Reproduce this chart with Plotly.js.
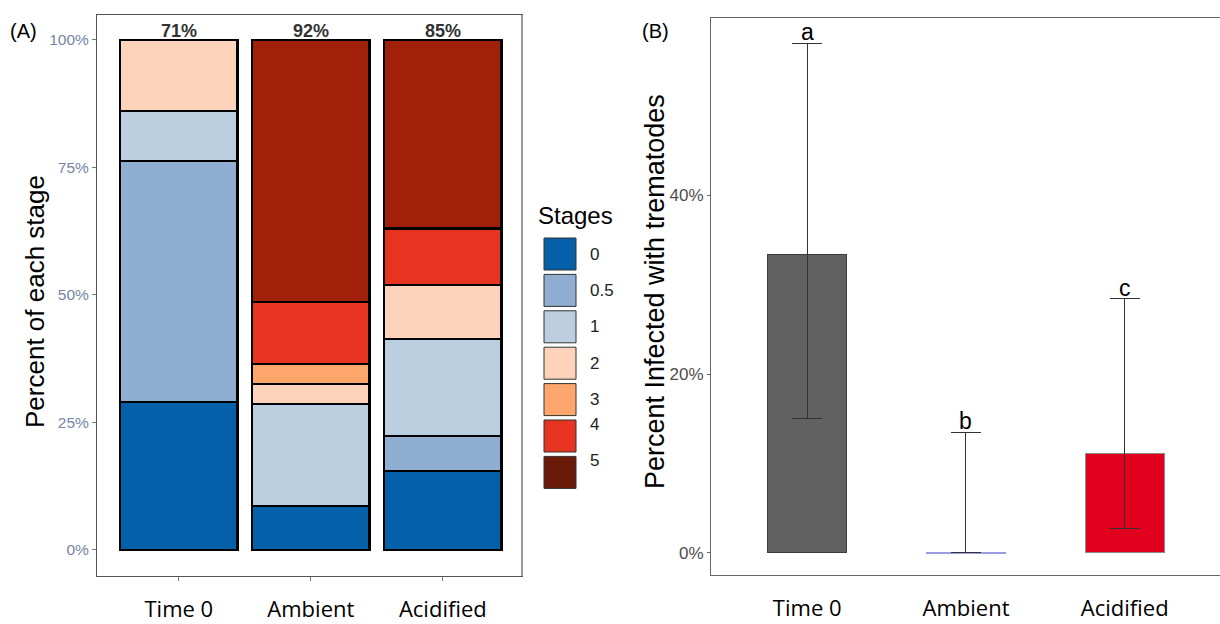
<!DOCTYPE html>
<html>
<head>
<meta charset="utf-8">
<script src="https://cdn.plot.ly/plotly-3.0.1.min.js"></script>
<style>html,body{margin:0;padding:0;background:#fff;}#chart{width:1220px;height:624px;}</style>
</head>
<body>
<div id="chart"></div>
<script>
// ---------- DATA ----------
const groups = ['Time 0', 'Ambient', 'Acidified'];
const stageNames = ['0', '0.5', '1', '2', '3', '4', '5'];
// percent of each stage per group (Panel A)
const stage0  = [29.0,  8.6, 15.5];
const stage05 = [47.3,  0.0,  6.9];
const stage1  = [ 9.8, 20.0, 19.0];
const stage2  = [13.9,  3.9, 10.6];
const stage3  = [ 0.0,  4.0,  0.0];
const stage4  = [ 0.0, 12.1, 11.0];
const stage5  = [ 0.0, 51.4, 37.0];
const infectedLabels = ['71%', '92%', '85%'];
// Panel B: percent infected with trematodes
const infected = [33.4, 0.0, 11.1];
const ciUpper  = [57.0, 13.5, 28.4];
const ciLower  = [15.0, 0.0, 2.7];
const letters  = ['a', 'b', 'c'];

// ---------- STYLE ----------
const stageColors = ['#0460a8', '#8faed1', '#bccfe1', '#fdd4bb', '#fca66c', '#e73421', '#a0200a'];
const keyColors   = ['#0460a8', '#8faed1', '#bccfe1', '#fdd4bb', '#fca66c', '#e73421', '#6b1a09'];
const stageData = [stage0, stage05, stage1, stage2, stage3, stage4, stage5];
const W = 1220, H = 624;
const px = x => x / W;
const py = y => 1 - y / H;
const sans = 'Liberation Sans, Arial, sans-serif';
const calib = 'Open Sans, sans-serif';

const traces = [];
stageData.forEach((vals, i) => {
  traces.push({
    type: 'bar', x: groups, y: vals, name: stageNames[i],
    xaxis: 'x', yaxis: 'y', width: 0.89,
    marker: {color: stageColors[i], line: {color: '#000', width: 2.5}},
    showlegend: false, hoverinfo: 'skip'
  });
});
traces.push({
  type: 'bar', x: groups, y: infected, xaxis: 'x2', yaxis: 'y2', width: 0.5,
  marker: {color: ['#616161', '#ffffff', '#e2001f'], line: {color: ['#3d3d3d', '#9a9be0', '#8a8a8a'], width: [1, 2, 1]}},
  error_y: {type: 'data', symmetric: false,
    array: ciUpper.map((u, i) => u - infected[i]),
    arrayminus: ciLower.map((l, i) => infected[i] - l),
    color: '#333', thickness: 1, width: 15},
  showlegend: false, hoverinfo: 'skip'
});

const annotations = [];
groups.forEach((g, i) => {
  annotations.push({xref: 'x', yref: 'y', x: g, y: 100, text: '<b>' + infectedLabels[i] + '</b>',
    showarrow: false, yanchor: 'bottom', yshift: -3, font: {family: sans, size: 18, color: '#333'}});
  annotations.push({xref: 'x2', yref: 'y2', x: g, y: ciUpper[i], text: letters[i],
    showarrow: false, yanchor: 'bottom', yshift: -4, font: {family: sans, size: 23, color: '#000'}});
});
annotations.push({xref: 'paper', yref: 'paper', x: px(35), y: py(302), xanchor: 'center', yanchor: 'middle',
  text: 'Percent of each stage', textangle: -90, showarrow: false, font: {family: sans, size: 26, color: '#000'}});
annotations.push({xref: 'paper', yref: 'paper', x: px(655), y: py(292), xanchor: 'center', yanchor: 'middle',
  text: 'Percent Infected with trematodes', textangle: -90, showarrow: false, font: {family: sans, size: 27, color: '#000'}});
annotations.push({xref: 'paper', yref: 'paper', x: px(8), y: py(18), xanchor: 'left', text: '(A)',
  showarrow: false, font: {family: sans, size: 20, color: '#000'}});
annotations.push({xref: 'paper', yref: 'paper', x: px(640), y: py(18), xanchor: 'left', text: '(B)',
  showarrow: false, font: {family: sans, size: 20, color: '#000'}});
annotations.push({xref: 'paper', yref: 'paper', x: px(536), y: py(215), xanchor: 'left', text: 'Stages',
  showarrow: false, font: {family: sans, size: 24, color: '#000'}});

const shapes = [];
stageNames.forEach((s, i) => {
  const top = 238 + i * 36.4;
  shapes.push({type: 'rect', xref: 'paper', yref: 'paper', x0: px(544), x1: px(576), y0: py(top + 32), y1: py(top),
    fillcolor: keyColors[i], line: {color: '#333', width: 1}});
  annotations.push({xref: 'paper', yref: 'paper', x: px(588), y: py(top + 16), xanchor: 'left', text: s,
    showarrow: false, font: {family: sans, size: 17, color: '#222'}});
});
// heavier right frame line of panel A
shapes.push({type: 'line', xref: 'paper', yref: 'paper', x0: px(522), x1: px(522), y0: py(576), y1: py(15),
  line: {color: '#9a9a9a', width: 2}});

const layout = {
  width: W, height: H, margin: {l: 0, r: 0, t: 0, b: 0},
  paper_bgcolor: '#fff', plot_bgcolor: '#fff',
  barmode: 'stack', showlegend: false,
  xaxis: {domain: [px(97), px(522)], range: [-0.62, 2.6], showline: true, mirror: true, linecolor: '#555', linewidth: 1,
    ticks: 'outside', ticklen: 4, tickcolor: '#777', showgrid: false, zeroline: false, fixedrange: true,
    tickfont: {family: calib, size: 22, color: '#000'}, ticklabelstandoff: 10},
  yaxis: {domain: [py(576), py(15)], range: [-5.1, 104.9], showline: true, mirror: true, linecolor: '#555', linewidth: 1,
    ticks: 'outside', ticklen: 4, tickcolor: '#777', showgrid: false, zeroline: false, fixedrange: true,
    tickvals: [0, 25, 50, 75, 100], ticktext: ['0%', '25%', '50%', '75%', '100%'],
    tickfont: {family: sans, size: 15.5, color: '#7585a5'}},
  xaxis2: {domain: [px(711), 1], range: [-0.606, 2.6], anchor: 'y2', showline: true, mirror: true, linecolor: '#666', linewidth: 1,
    ticks: '', showgrid: false, zeroline: false, fixedrange: true,
    tickfont: {family: calib, size: 22, color: '#000'}, ticklabelstandoff: 14},
  yaxis2: {domain: [py(575), py(18)], range: [-2.46, 59.8], anchor: 'x2', showline: true, linecolor: '#666', linewidth: 1,
    ticks: 'outside', ticklen: 3, tickcolor: '#666', showgrid: false, zeroline: false, fixedrange: true,
    tickvals: [0, 20, 40], ticktext: ['0%', '20%', '40%'],
    tickfont: {family: sans, size: 17, color: '#4d4d4d'}},
  annotations: annotations, shapes: shapes
};

Plotly.newPlot('chart', traces, layout, {staticPlot: true, displayModeBar: false});
</script>
</body>
</html>
